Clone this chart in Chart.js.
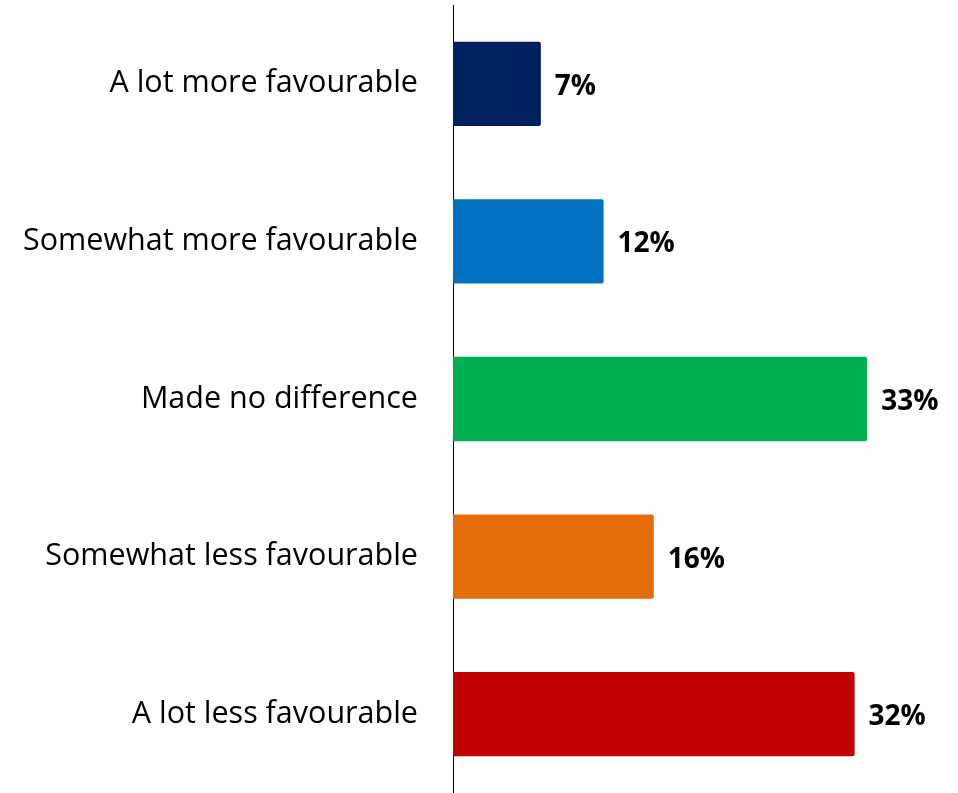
<!DOCTYPE html>
<html>
<head>
<meta charset="utf-8">
<script src="https://cdn.jsdelivr.net/npm/chart.js@4"></script>
<style>
  html, body { margin: 0; padding: 0; background: #fff; }
  #wrap { width: 958px; height: 793px; }
</style>
</head>
<body>
<div id="wrap"><canvas id="favChart"></canvas></div>
<script>
// categories and shares (%)
var categories = [
    'A lot more favourable',
    'Somewhat more favourable',
    'Made no difference',
    'Somewhat less favourable',
    'A lot less favourable'
];
var shares = [7, 12, 33, 16, 32];
var barColors = ['#002060', '#0070C0', '#00B050', '#E46C0A', '#C00000'];

// writes the percentage just past the end of each bar
var valueLabels = {
    id: 'valueLabels',
    afterDatasetsDraw: function(chart) {
        var ctx = chart.ctx;
        var meta = chart.getDatasetMeta(0);
        ctx.save();
        ctx.font = 'bold 28px "Open Sans"';
        ctx.fillStyle = '#000';
        ctx.textAlign = 'left';
        ctx.textBaseline = 'middle';
        meta.data.forEach(function(bar, i) {
            ctx.fillText(shares[i] + '%', bar.x + 14, bar.y + 3);
        });
        ctx.restore();
    }
};

var ctx = document.getElementById('favChart').getContext('2d');
var favChart = new Chart(ctx, {
    type: 'bar',
    data: {
        labels: categories,
        datasets: [{
            data: shares,
            backgroundColor: barColors,
            borderRadius: 2,
            borderSkipped: 'start',
            barPercentage: 0.535,
            categoryPercentage: 1
        }]
    },
    options: {
        indexAxis: 'y',
        responsive: true,
        maintainAspectRatio: false,
        animation: false,
        layout: { padding: { top: 5, right: 3, bottom: 0, left: 0 } },
        plugins: {
            legend: { display: false },
            tooltip: { enabled: false }
        },
        scales: {
            x: {
                display: false,
                min: 0,
                max: 40
            },
            y: {
                grid: { display: false, drawTicks: false },
                border: { display: true, color: '#000', width: 1 },
                ticks: {
                    color: '#000',
                    padding: 35,
                    font: { family: 'Open Sans', size: 30.5 }
                },
                afterFit: function(scale) {
                    // fixed axis position, no extra vertical room for labels
                    scale.width = 453;
                    scale.paddingTop = 0;
                    scale.paddingBottom = 0;
                }
            }
        }
    },
    plugins: [valueLabels]
});
</script>
</body>
</html>
